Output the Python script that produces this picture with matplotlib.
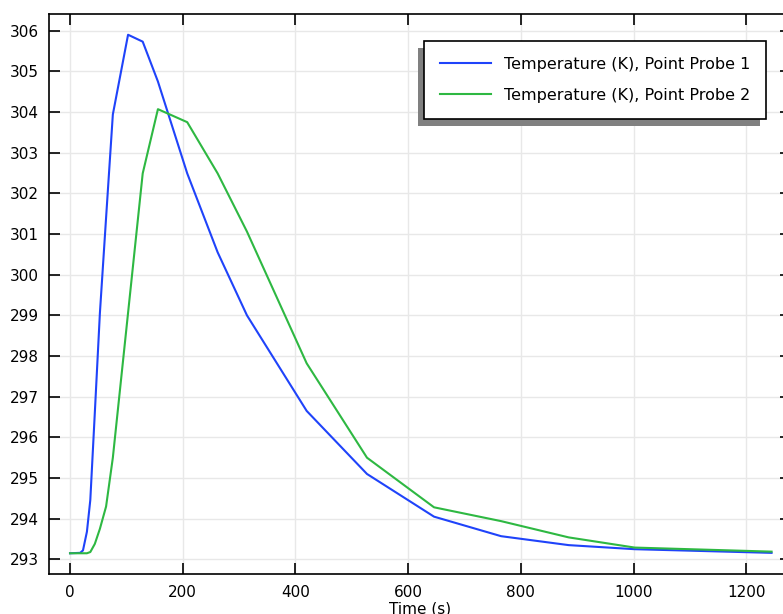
import numpy as np
import matplotlib

matplotlib.use("Agg")
import matplotlib.pyplot as plt
from matplotlib.patches import Rectangle
from matplotlib.transforms import IdentityTransform

# time steps shared by both probes (s)
time_s = [0, 18, 23, 30, 36, 44, 53, 64, 76, 103, 129, 156, 208, 262, 314,
          420, 527, 646, 765, 885, 1002, 1245]
# Point Probe 1 temperature (K)
probe1_K = [293.15, 293.16, 293.22, 293.68, 294.46, 296.60, 299.05, 301.40,
            303.94, 305.90, 305.73, 304.75, 302.49, 300.55, 299.00, 296.65,
            295.10, 294.05, 293.57, 293.35, 293.25, 293.16]
# Point Probe 2 temperature (K)
probe2_K = [293.15, 293.15, 293.15, 293.15, 293.18, 293.38, 293.75, 294.30,
            295.50, 299.06, 302.49, 304.07, 303.75, 302.49, 301.06, 297.82,
            295.50, 294.28, 293.94, 293.54, 293.29, 293.19]
labels = ["Temperature (K), Point Probe 1", "Temperature (K), Point Probe 2"]
xticks = [0, 200, 400, 600, 800, 1000, 1200]
yticks = list(range(293, 307))

plt.rcParams.update({"font.family": "DejaVu Sans", "font.size": 11})

W, H = 783, 614
fig = plt.figure(figsize=(W / 100, H / 100), dpi=100)
# right edge of the axes sits just past the picture, as in the original
ax = fig.add_axes([49 / W, 40 / H, 742 / W, 560 / H])

ax.plot(time_s, probe1_K, color="#1f43fa", lw=1.5, label=labels[0])
ax.plot(time_s, probe2_K, color="#2eb842", lw=1.5, label=labels[1])

ax.set_xlim(-37.3, 1279.5)
ax.set_ylim(292.64, 306.41)
ax.set_xticks(xticks)
ax.set_yticks(yticks)
ax.grid(True, color="#e8e8e8", lw=1.0)
ax.set_axisbelow(True)
ax.tick_params(direction="in", top=True, right=True, length=7.7, width=1.2,
               labelsize=11)
ax.tick_params(axis="y", pad=7)
ax.tick_params(axis="x", pad=8)
for s in ax.spines.values():
    s.set_linewidth(1.2)
ax.set_xlabel("Time (s)", fontsize=11, labelpad=1)

leg = ax.legend(loc="upper right", bbox_to_anchor=(0.9663, 0.9523),
                borderaxespad=0, fancybox=False, framealpha=1,
                edgecolor="black", borderpad=1.0, labelspacing=1.0,
                handlelength=3.2, handletextpad=0.8, fontsize=11.5)
leg.get_frame().set_linewidth(1.2)

# grey drop shadow offset down-left
fig.canvas.draw()
bb = leg.get_window_extent()
ax.add_patch(Rectangle((bb.x0 - 6, bb.y0 - 7), bb.width, bb.height,
                       transform=IdentityTransform(), facecolor="#808080",
                       edgecolor="none", zorder=4.9, clip_on=False))

fig.savefig("out.png", dpi=100)
